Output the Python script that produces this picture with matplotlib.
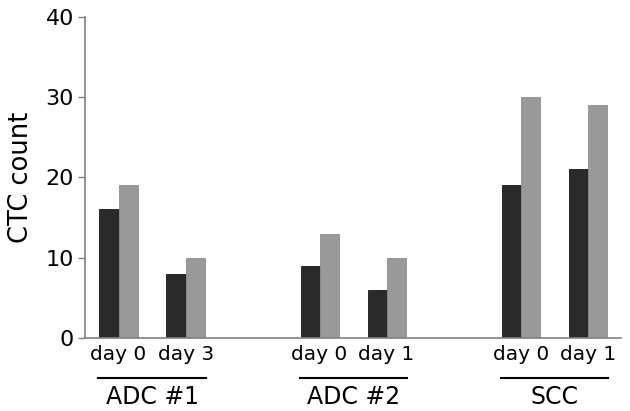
import matplotlib
matplotlib.use("Agg")
import matplotlib.pyplot as plt
import numpy as np
from matplotlib.lines import Line2D
import matplotlib.transforms as mtransforms

groups = ["ADC #1", "ADC #2", "SCC"]
day_labels = ["day 0", "day 3", "day 0", "day 1", "day 0", "day 1"]
dark_values = [16, 8, 9, 6, 19, 21]
gray_values = [19, 10, 13, 10, 30, 29]
positions = [0, 1, 3, 4, 6, 7]
group_members = [[0, 1], [3, 4], [6, 7]]

plt.rcParams['font.family'] = ['DejaVu Sans']

fig = plt.figure(figsize=(6.3, 4.11), dpi=100)
ax = fig.add_axes([0.135, 0.178, 0.851, 0.781])

w = 0.285
x = np.array(positions, dtype=float)
ax.bar(x - w / 2, dark_values, width=w, color="#2a2a2a", edgecolor="#1a1a1a", linewidth=0.6)
ax.bar(x + w / 2, gray_values, width=w, color="#999999", edgecolor="#8c8c8c", linewidth=0.6)

ax.set_xlim(-0.5, 7.5)
ax.set_ylim(0, 40)
ax.set_yticks([0, 10, 20, 30, 40])
ax.set_xticks(positions)
ax.set_xticklabels(day_labels, fontsize=14.5)
ax.tick_params(axis='x', length=0, pad=5)
ax.tick_params(axis='y', length=5, width=1, color="#808080", labelsize=16, pad=3)

for s in ["top", "right"]:
    ax.spines[s].set_visible(False)
for s in ["left", "bottom"]:
    ax.spines[s].set_color("#808080")
    ax.spines[s].set_linewidth(1.2)

ax.set_ylabel("CTC count", fontsize=18.5, labelpad=8)

trans = mtransforms.blended_transform_factory(ax.transData, ax.transAxes)
for g, members in zip(groups, group_members):
    c = np.mean(members)
    ax.add_line(Line2D([c - 0.8, c + 0.8], [-0.125, -0.125], transform=trans,
                       color="black", linewidth=1.5, clip_on=False))
    ax.text(c, -0.185, g, transform=trans, ha="center", va="center", fontsize=17)

fig.savefig("out.png", dpi=100)
